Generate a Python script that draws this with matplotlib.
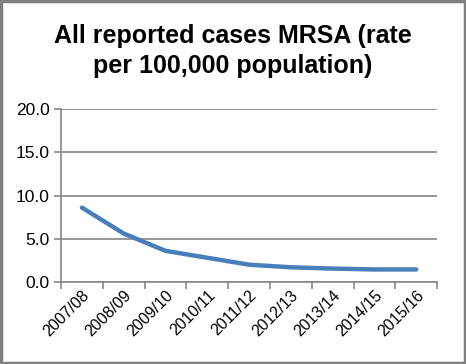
import matplotlib.pyplot as plt
from matplotlib.patches import Rectangle

years = ["2007/08", "2008/09", "2009/10", "2010/11", "2011/12",
         "2012/13", "2013/14", "2014/15", "2015/16"]
rate = [8.6, 5.6, 3.6, 2.8, 2.0, 1.7, 1.55, 1.45, 1.45]

plt.rcParams['font.family'] = ['Liberation Sans', 'DejaVu Sans']

fig = plt.figure(figsize=(4.66, 3.64), dpi=100)
fig.patches.append(Rectangle((0.002, 0.003), 0.996, 0.994, transform=fig.transFigure,
                             fill=False, edgecolor='#7f7f7f', linewidth=2.5))

ax = fig.add_axes([0.131, 0.2253, 0.807, 0.4752])
x = list(range(len(years)))
ax.plot(x, rate, color='#4a7ebb', linewidth=3.2, solid_capstyle='round')

ax.set_xlim(-0.5, len(years) - 0.5)
ax.set_ylim(0, 20)
ax.set_yticks([0, 5, 10, 15, 20])
ax.set_yticklabels(["{:.1f}".format(v) for v in [0, 5, 10, 15, 20]], fontsize=12.5)
ax.yaxis.grid(True, color='#868686', linewidth=1.2)
ax.set_axisbelow(True)

ax.set_xticks([i - 0.5 for i in range(len(years) + 1)])
ax.set_xticklabels([])
ax.set_xticks(x, minor=True)
ax.set_xticklabels(years, minor=True, rotation=45, ha='right', va='top',
                   rotation_mode='anchor', fontsize=11.5)
ax.tick_params(axis='x', which='minor', length=0, pad=4)
ax.tick_params(axis='x', which='major', length=5, color='#868686', width=1.2)
ax.tick_params(axis='y', length=5, color='#868686', width=1.2, pad=3)

for s in ['top', 'right']:
    ax.spines[s].set_visible(False)
for s in ['left', 'bottom']:
    ax.spines[s].set_color('#868686')
    ax.spines[s].set_linewidth(1.2)

fig.text(0.5, 0.86, "All reported cases MRSA (rate\nper 100,000 population)",
         ha='center', va='center', fontsize=18, fontweight='bold', linespacing=1.3)

fig.savefig("out.png", dpi=100)
